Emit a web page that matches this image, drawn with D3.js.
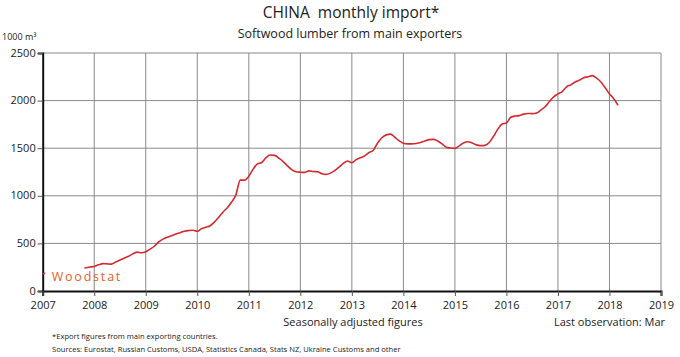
<!DOCTYPE html>
<html><head><meta charset="utf-8">
<script src="https://cdn.jsdelivr.net/npm/d3@7"></script>
<style>
body{margin:0;background:#fff}
svg{display:block}
text{font-family:"Open Sans","Noto Sans",sans-serif;fill:#222}
</style>
</head><body>
<svg id="c" width="680" height="357"></svg>
<script>
const titleText = "CHINA  monthly import*";
const subtitleText = "Softwood lumber from main exporters";
const unitText = "1000 m³";
const noteCenter = "Seasonally adjusted figures";
const noteRight = "Last observation: Mar";
const footnotes = ["*Export figures from main exporting countries.",
  "Sources: Eurostat, Russian Customs, USDA, Statistics Canada, Stats NZ, Ukraine Customs and other"];
const logoText = "Woodstat";

const startYear = 2007;
const yearTicks = [2007,2008,2009,2010,2011,2012,2013,2014,2015,2016,2017,2018,2019];
const valueTicks = [0,500,1000,1500,2000,2500];
// monthly imports, Jan 2007 .. Mar 2018 (1000 m3, seasonally adjusted)
const imports2007 = [180,192,200,205,210,215,220,226,232,238,245,252];
const imports2008 = [258,275,288,285,282,305,325,345,365,390,408,402];
const imports2009 = [412,440,470,515,545,565,580,598,612,628,635,638];
const imports2010 = [628,655,670,686,725,775,830,875,935,1010,1165,1165];
const imports2011 = [1205,1280,1335,1350,1400,1428,1425,1395,1360,1315,1275,1253];
const imports2012 = [1248,1246,1262,1255,1253,1232,1225,1238,1265,1300,1340,1365];
const imports2013 = [1347,1380,1400,1420,1455,1478,1555,1610,1640,1648,1615,1578];
const imports2014 = [1552,1545,1545,1550,1560,1575,1590,1593,1575,1545,1510,1502];
const imports2015 = [1498,1525,1555,1568,1555,1535,1527,1530,1560,1625,1700,1755];
const imports2016 = [1765,1825,1838,1842,1858,1865,1863,1870,1900,1935,1990,2040];
const imports2017 = [2070,2095,2145,2165,2195,2215,2240,2250,2262,2235,2195,2135];
const imports2018 = [2070,2020,1950];
const imports = [].concat(imports2007,imports2008,imports2009,imports2010,imports2011,imports2012,
  imports2013,imports2014,imports2015,imports2016,imports2017,imports2018);

const svg = d3.select("#c");
const x = d3.scaleLinear().domain([2007,2019]).range([42.7,661]);
const y = d3.scaleLinear().domain([0,2500]).range([291,53]);

// grid
svg.append("g").selectAll("line").data(yearTicks.slice(1)).join("line")
  .attr("x1",d=>x(d)).attr("x2",d=>x(d)).attr("y1",y(0)).attr("y2",y(2500))
  .attr("stroke","#8a8a8a").attr("stroke-width",1);
svg.append("g").selectAll("line").data(valueTicks.slice(1)).join("line")
  .attr("x1",x(2007)).attr("x2",x(2019)).attr("y1",d=>y(d)).attr("y2",d=>y(d))
  .attr("stroke","#8a8a8a").attr("stroke-width",1);

// axes
const yAxis = d3.axisLeft(y).tickValues(valueTicks).tickFormat(d3.format("d")).tickSize(5).tickPadding(2);
const gy = svg.append("g").attr("transform",`translate(${x(2007)},0)`).call(yAxis);
gy.select(".domain").attr("stroke","#111").attr("stroke-width",2);
gy.selectAll(".tick line").attr("stroke","#555");
gy.selectAll(".tick text").attr("font-size",11).attr("fill","#444").attr("font-family","Open Sans")
  .attr("dy","0.28em");

const xAxis = d3.axisBottom(x).tickValues(yearTicks).tickFormat(d3.format("d")).tickSize(5).tickPadding(5);
const gx = svg.append("g").attr("transform",`translate(0,${y(0)})`).call(xAxis);
gx.select(".domain").attr("stroke","#111").attr("stroke-width",2);
gx.selectAll(".tick line").attr("stroke","#555");
gx.selectAll(".tick text").attr("font-size",11).attr("fill","#444").attr("font-family","Open Sans");

// line
const line = d3.line().x((d,i)=>x(startYear + i/12)).y(d=>y(d)).curve(d3.curveMonotoneX);
svg.append("path").datum(imports).attr("d",line).attr("fill","none")
  .attr("stroke","#d42a2f").attr("stroke-width",1.6);

// logo with white backing
svg.append("rect").attr("x",x(2007)+2.5).attr("y",y(270)).attr("width",x(2007.83)-x(2007)-3.5)
  .attr("height",y(40)-y(270)).attr("fill","#fff");
svg.append("text").attr("x",x(2007)+9).attr("y",y(100)).text(logoText)
  .attr("font-family","DejaVu Sans").attr("font-size",12.5).attr("letter-spacing",1.8)
  .style("fill","#e4602a");

// titles
svg.append("text").attr("x",351).attr("y",18).attr("text-anchor","middle")
  .attr("font-size",15.5).style("white-space","pre").text(titleText);
svg.append("text").attr("x",350).attr("y",38).attr("text-anchor","middle")
  .attr("font-size",12.5).text(subtitleText);
svg.append("text").attr("x",2).attr("y",40).attr("font-size",9).text(unitText);

svg.append("text").attr("x",353).attr("y",326).attr("text-anchor","middle")
  .attr("font-size",11).text(noteCenter);
svg.append("text").attr("x",665).attr("y",326).attr("text-anchor","end")
  .attr("font-size",11).text(noteRight);
svg.selectAll(".fn").data(footnotes).join("text").attr("class","fn")
  .attr("x",52).attr("y",(d,i)=>339+i*13).attr("font-size",7.6).text(d=>d);
</script>
</body></html>
